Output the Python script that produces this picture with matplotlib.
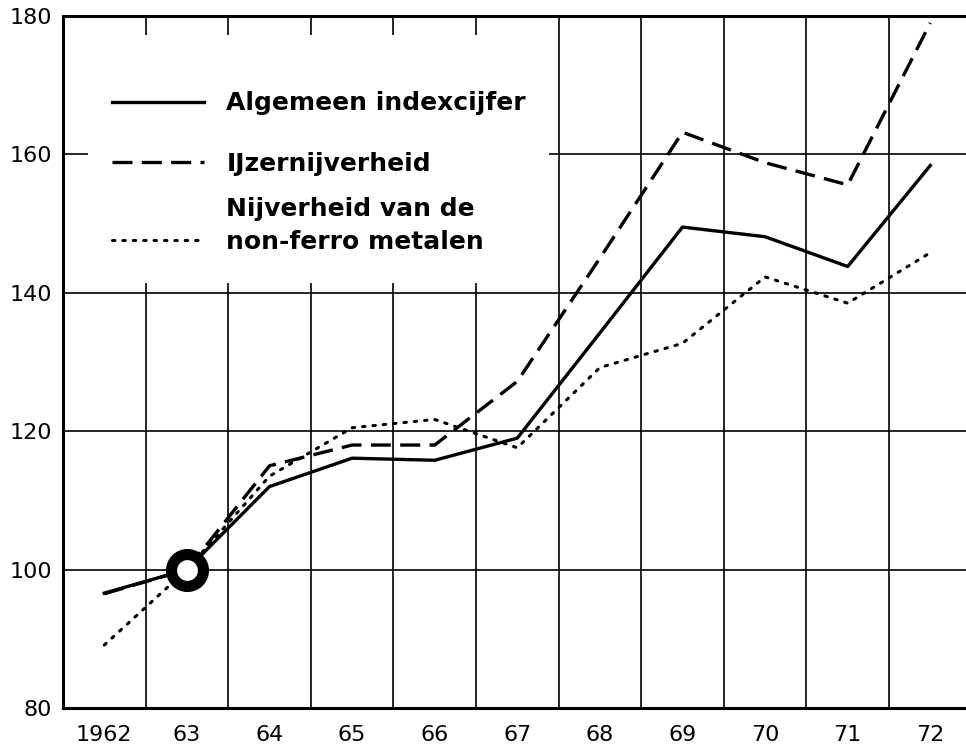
import matplotlib
matplotlib.use('Agg')
import matplotlib.pyplot as plt
from matplotlib.lines import Line2D
from matplotlib.patches import Rectangle

# index figures, base year 1963 = 100
years = [1962, 1963, 1964, 1965, 1966, 1967, 1968, 1969, 1970, 1971, 1972]
year_labels = ['1962', '63', '64', '65', '66', '67', '68', '69', '70', '71', '72']
algemeen = [96.6, 100, 112.0, 116.1, 115.8, 119.0, 134.2, 149.5, 148.1, 143.8, 158.4]
ijzer = [96.5, 100, 115.0, 118.0, 118.0, 127.2, 145.0, 163.2, 158.8, 155.6, 179.0]
nonferro = [89.1, 100, 113.5, 120.5, 121.7, 117.6, 129.2, 132.7, 142.3, 138.5, 145.8]
base_year = [1963]
base_value = [100]

label_alg = 'Algemeen indexcijfer'
label_ijzer = 'IJzernijverheid'
label_nf = ['Nijverheid van de', 'non-ferro metalen']
y_ticks = [80, 100, 120, 140, 160, 180]

plt.rcParams['font.family'] = ['DejaVu Sans']

fig = plt.figure(figsize=(9.66, 7.51), dpi=100)
ax = fig.add_axes([63 / 966, 43 / 751, (966 - 63) / 966, 692 / 751])

dashed = (0, (6, 2.8))
dotted = (0, (0.8, 2.6))

ax.plot(years, algemeen, color='black', lw=2.4, zorder=3)
ax.plot(years, ijzer, color='black', lw=2.4, linestyle=dashed, zorder=3)
ax.plot(years, nonferro, color='black', lw=2.2, linestyle=dotted,
        dash_capstyle='round', zorder=3)
ax.plot(base_year, base_value, marker='o', markersize=23, markeredgewidth=8,
        markerfacecolor='white', markeredgecolor='black', linestyle='none', zorder=4)

ax.set_xlim(1961.5, 1961.5 + (966 - 63) / 82.6)
ax.set_ylim(80, 180)

ax.set_xticks(years)
ax.set_xticklabels(year_labels, fontsize=16)
ax.set_xticks([y + 0.5 for y in years[:-1]], minor=True)
ax.set_yticks(y_ticks)
ax.set_yticklabels([str(v) for v in y_ticks], fontsize=16)
ax.tick_params(axis='both', which='both', length=0)
ax.tick_params(axis='x', pad=12)
ax.tick_params(axis='y', pad=8)

ax.set_axisbelow(True)
ax.grid(which='minor', axis='x', color='black', lw=1.2)
ax.grid(which='major', axis='y', color='black', lw=1.2)
ax.grid(which='major', axis='x', visible=False)

for side in ['left', 'bottom', 'top']:
    ax.spines[side].set_linewidth(2.2)
ax.spines['right'].set_visible(False)

# white block behind the legend hides the grid there
ax.add_patch(Rectangle((0.0277, 0.614), 0.511, 0.358, transform=ax.transAxes,
                       facecolor='white', edgecolor='none', zorder=1))

legend_kw = dict(loc='upper left', frameon=False, prop={'size': 18, 'weight': 'bold'},
                 handlelength=3.7, handletextpad=0.88, borderpad=0, borderaxespad=0)

h_alg = Line2D([], [], color='black', lw=2.4)
h_ijzer = Line2D([], [], color='black', lw=2.4, linestyle=dashed)
h_none = Line2D([], [], color='none')
h_nf = Line2D([], [], color='black', lw=2.2, linestyle=dotted, dash_capstyle='round')

leg1 = ax.legend([h_alg, h_ijzer], [label_alg, label_ijzer],
                 bbox_to_anchor=(0.054, 0.891), labelspacing=1.45, **legend_kw)
ax.add_artist(leg1)
ax.legend([h_none, h_nf], label_nf,
          bbox_to_anchor=(0.054, 0.738), labelspacing=0.35, **legend_kw)

plt.savefig('out.png', dpi=100)
